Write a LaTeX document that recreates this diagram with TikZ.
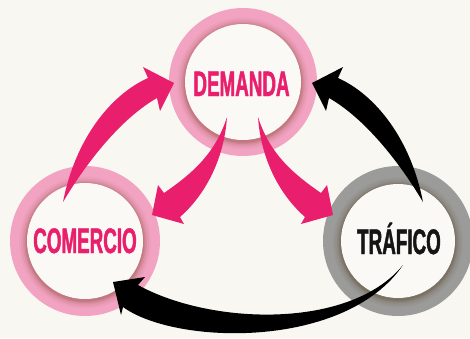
\documentclass[tikz,border=0pt]{standalone}
\usepackage{fontspec}
\newfontfamily\labelfont[FakeStretch=0.53,FakeBold=1.2]{Liberation Sans Bold}
\definecolor{bg}{HTML}{F8F7F2}
\definecolor{innerbg}{HTML}{FAF9F5}
\definecolor{ringpink}{HTML}{F2A3C2}
\definecolor{ringgray}{HTML}{9B9B99}
\definecolor{shadowpink}{HTML}{A9605E}
\definecolor{shadowgray}{HTML}{6A5A4A}
\definecolor{hotpink}{HTML}{E91E6C}
\definecolor{textblack}{HTML}{151515}
\begin{document}
\begin{tikzpicture}[x=1pt,y=-1pt,
  label/.style={font=\labelfont\fontsize{35.5}{36}\selectfont, inner sep=0pt, anchor=base},
  pinkarrow/.style={fill=hotpink},
  blackarrow/.style={fill=black}]
\fill[bg] (0,0) rectangle (470,338);
\useasboundingbox (0,0) rectangle (470,338);
% ring centres
\coordinate (cd) at (243,82);
\coordinate (cc) at (85,241);
\coordinate (ct) at (398,241);
% rings with inner shadow
\foreach \c/\ro/\ri/\rc/\sc in {cd/74/58/ringpink/shadowpink, cc/75/58/ringpink/shadowpink, ct/75/57/ringgray/shadowgray}{
  \fill[\rc] (\c) circle (\ro);
  \foreach \d/\o in {8/0.07,6/0.11,4/0.16,2.5/0.22,1.2/0.32}
    \fill[\sc, opacity=\o] ([yshift=-1.5pt]\c) circle ({\ri+\d});
  \fill[innerbg] (\c) circle (\ri);
}
% labels
\node[label, text=hotpink] (demanda) at (241.5,96) {DEMANDA};
\node[label, text=hotpink] (comercio) at (85,253) {COMERCIO};
\node[label, text=textblack] (trafico) at (399,254) {TRÁFICO};
% comercio -> demanda
\fill[pinkarrow] (63,202) .. controls (75,140) and (110,95) .. (148,78) -- (143,67) -- (174,83)
  -- (160,111) -- (157,98) .. controls (122,118) and (88,160) .. (63,202);
% trafico -> demanda
\fill[blackarrow] (423,202) .. controls (411,140) and (376,95) .. (338,78) -- (343,67) -- (312,83)
  -- (326,111) -- (329,98) .. controls (364,118) and (398,160) .. (423,202);
% demanda -> comercio
\fill[pinkarrow] (227,117) .. controls (224,160) and (205,195) .. (180,217) -- (184,224) -- (152,215)
  -- (158,185) -- (164,193) .. controls (190,175) and (215,155) .. (227,117);
% demanda -> trafico
\fill[pinkarrow] (258,117) .. controls (261,160) and (280,195) .. (305,217) -- (301,224) -- (333,215)
  -- (327,185) -- (321,193) .. controls (295,175) and (270,155) .. (258,117);
% trafico -> comercio
\fill[blackarrow] (403,265) .. controls (350,330) and (210,325) .. (138,285) -- (145,277) -- (113,282)
  -- (121,315) -- (123,307) .. controls (175,345) and (345,350) .. (403,265);
\end{tikzpicture}
\end{document}
